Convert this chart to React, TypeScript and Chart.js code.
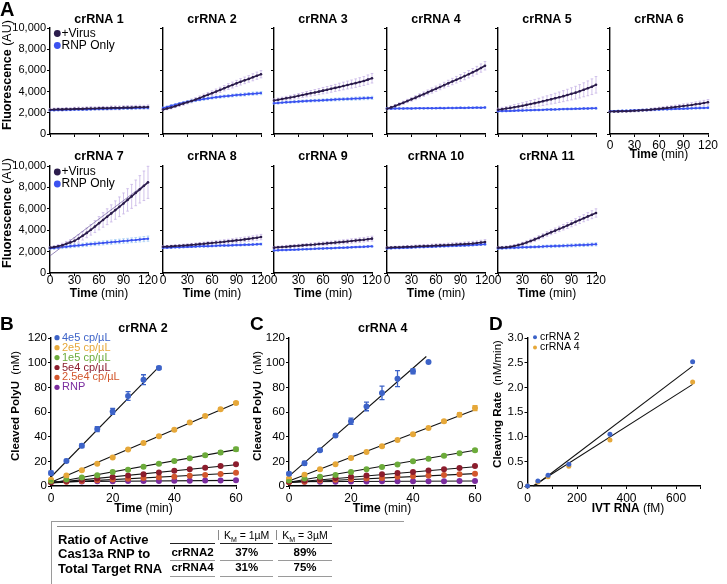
import React, { useEffect, useRef } from 'react';
import { Chart, registerables } from 'chart.js';
Chart.register(...registerables);

const FONT = '"Liberation Sans", Arial, Helvetica, sans-serif';

// ---------------- Panel A data ----------------
const timeA = [0, 5, 10, 15, 20, 25, 30, 35, 40, 45, 50, 55, 60, 65, 70, 75, 80, 85, 90, 95, 100, 105, 110, 115, 120];
const titlesA = ['crRNA 1', 'crRNA 2', 'crRNA 3', 'crRNA 4', 'crRNA 5', 'crRNA 6', 'crRNA 7', 'crRNA 8', 'crRNA 9', 'crRNA 10', 'crRNA 11'];
const yTicksA = [0, 2000, 4000, 6000, 8000, 10000];
const xTicksA = [0, 30, 60, 90, 120];

const a1Virus = [2290, 2310, 2330, 2320, 2350, 2340, 2370, 2380, 2370, 2400, 2410, 2400, 2430, 2440, 2430, 2460, 2470, 2460, 2490, 2500, 2490, 2520, 2530, 2520, 2550];
const a1VirusErr = [120, 130, 140, 130, 150, 140, 150, 160, 150, 160, 170, 160, 170, 160, 170, 180, 170, 180, 170, 180, 190, 180, 190, 180, 190];
const a1Rnp = [2230, 2250, 2260, 2270, 2280, 2290, 2300, 2310, 2320, 2320, 2340, 2350, 2360, 2360, 2380, 2390, 2400, 2400, 2420, 2430, 2440, 2450, 2460, 2470, 2480];
const a1RnpErr = [60, 70, 60, 70, 80, 70, 80, 70, 80, 90, 80, 90, 80, 90, 100, 90, 100, 90, 100, 110, 100, 110, 100, 110, 120];

const a2Virus = [2300, 2400, 2500, 2620, 2750, 2870, 3000, 3120, 3250, 3400, 3550, 3700, 3850, 4000, 4160, 4320, 4480, 4620, 4780, 4920, 5060, 5200, 5350, 5500, 5640];
const a2VirusErr = [100, 110, 130, 130, 150, 160, 160, 180, 190, 190, 210, 220, 220, 240, 250, 250, 270, 280, 280, 300, 310, 310, 330, 340, 340];
const a2Rnp = [2450, 2560, 2670, 2770, 2870, 2960, 3040, 3110, 3180, 3240, 3300, 3360, 3410, 3460, 3510, 3550, 3590, 3630, 3670, 3700, 3730, 3770, 3800, 3830, 3860];
const a2RnpErr = [80, 80, 90, 90, 100, 100, 100, 110, 110, 110, 120, 120, 120, 120, 130, 130, 130, 130, 140, 140, 140, 140, 150, 150, 150];

const a3Virus = [3160, 3230, 3300, 3370, 3440, 3520, 3600, 3680, 3760, 3840, 3920, 4000, 4090, 4170, 4260, 4350, 4440, 4530, 4620, 4710, 4800, 4900, 5000, 5130, 5260];
const a3VirusErr = [150, 160, 170, 180, 200, 210, 220, 230, 250, 260, 270, 280, 300, 310, 320, 330, 350, 360, 370, 380, 400, 410, 420, 440, 450];
const a3Rnp = [2900, 2930, 2960, 2990, 3010, 3040, 3060, 3090, 3110, 3130, 3150, 3170, 3190, 3210, 3230, 3250, 3270, 3290, 3310, 3320, 3340, 3360, 3380, 3390, 3410];
const a3RnpErr = [80, 90, 90, 100, 100, 100, 110, 110, 110, 120, 120, 120, 120, 130, 130, 130, 130, 140, 140, 140, 140, 150, 150, 150, 150];

const a4Virus = [2380, 2510, 2650, 2800, 2950, 3110, 3270, 3430, 3600, 3760, 3930, 4100, 4270, 4440, 4610, 4780, 4950, 5120, 5290, 5460, 5640, 5820, 6010, 6220, 6440];
const a4VirusErr = [100, 110, 120, 140, 150, 160, 170, 190, 200, 210, 220, 240, 250, 260, 270, 290, 300, 310, 320, 340, 350, 360, 370, 390, 400];
const a4Rnp = [2400, 2390, 2400, 2410, 2400, 2420, 2410, 2420, 2430, 2420, 2440, 2430, 2440, 2450, 2440, 2460, 2450, 2460, 2470, 2460, 2480, 2470, 2490, 2480, 2500];
const a4RnpErr = [60, 60, 70, 60, 70, 60, 70, 70, 60, 70, 70, 60, 70, 70, 80, 70, 70, 80, 70, 80, 80, 70, 80, 80, 80];

const a5Virus = [2280, 2340, 2400, 2460, 2530, 2600, 2670, 2750, 2830, 2910, 3000, 3090, 3180, 3270, 3370, 3470, 3570, 3680, 3790, 3900, 4030, 4170, 4310, 4460, 4640];
const a5VirusErr = [150, 170, 190, 210, 240, 260, 280, 300, 330, 350, 370, 400, 420, 440, 470, 490, 520, 540, 570, 600, 630, 660, 700, 740, 780];
const a5Rnp = [2150, 2160, 2170, 2180, 2200, 2210, 2220, 2230, 2250, 2260, 2270, 2280, 2300, 2310, 2320, 2330, 2350, 2360, 2370, 2380, 2390, 2400, 2410, 2420, 2430];
const a5RnpErr = [60, 70, 60, 70, 70, 60, 70, 70, 80, 70, 70, 80, 70, 80, 80, 70, 80, 80, 90, 80, 80, 90, 80, 90, 90];

const a6Virus = [2120, 2120, 2130, 2140, 2150, 2170, 2190, 2210, 2240, 2270, 2300, 2340, 2380, 2420, 2460, 2500, 2540, 2590, 2640, 2690, 2740, 2800, 2860, 2920, 2990];
const a6VirusErr = [80, 80, 90, 90, 100, 100, 110, 110, 120, 130, 130, 140, 150, 150, 160, 170, 180, 190, 200, 210, 220, 230, 240, 250, 260];
const a6Rnp = [2150, 2160, 2170, 2190, 2200, 2210, 2230, 2240, 2260, 2270, 2280, 2300, 2310, 2330, 2340, 2350, 2370, 2380, 2390, 2410, 2420, 2440, 2450, 2460, 2480];
const a6RnpErr = [60, 60, 70, 60, 70, 70, 60, 70, 70, 80, 70, 70, 80, 70, 80, 80, 70, 80, 80, 90, 80, 80, 90, 90, 90];

const a7Virus = [2370, 2420, 2500, 2600, 2730, 2860, 3000, 3230, 3480, 3750, 4040, 4340, 4650, 4960, 5260, 5570, 5880, 6190, 6500, 6830, 7160, 7490, 7820, 8150, 8470];
const a7VirusErr = [100, 120, 150, 180, 220, 260, 300, 350, 400, 450, 500, 560, 620, 680, 740, 800, 860, 920, 980, 1050, 1120, 1200, 1280, 1380, 1500];
const a7Rnp = [2300, 2340, 2380, 2420, 2460, 2500, 2540, 2580, 2620, 2660, 2700, 2740, 2770, 2810, 2850, 2880, 2920, 2950, 2990, 3020, 3060, 3090, 3130, 3170, 3210];
const a7RnpErr = [120, 130, 130, 140, 140, 150, 150, 160, 160, 170, 170, 180, 180, 190, 190, 200, 200, 210, 210, 220, 220, 230, 230, 240, 240];
const a7FitTime = [0, 120];
const a7Fit = [1600, 8500];

const a8Virus = [2450, 2470, 2490, 2520, 2540, 2570, 2600, 2630, 2660, 2700, 2730, 2770, 2810, 2850, 2880, 2920, 2960, 3000, 3050, 3090, 3140, 3190, 3240, 3300, 3360];
const a8VirusErr = [100, 100, 110, 110, 120, 120, 130, 140, 140, 150, 150, 160, 170, 170, 180, 190, 190, 200, 210, 210, 220, 230, 230, 240, 250];
const a8Rnp = [2350, 2370, 2380, 2400, 2410, 2430, 2440, 2460, 2470, 2490, 2500, 2510, 2530, 2540, 2560, 2570, 2580, 2600, 2610, 2620, 2640, 2650, 2670, 2680, 2700];
const a8RnpErr = [70, 70, 80, 70, 80, 80, 70, 80, 90, 80, 80, 90, 80, 90, 90, 80, 90, 100, 90, 90, 100, 90, 100, 100, 100];

const a9Virus = [2370, 2400, 2430, 2460, 2490, 2520, 2550, 2580, 2610, 2640, 2670, 2710, 2740, 2770, 2810, 2840, 2880, 2910, 2950, 2990, 3030, 3070, 3110, 3160, 3210];
const a9VirusErr = [100, 110, 110, 120, 120, 130, 130, 140, 140, 150, 150, 160, 160, 170, 170, 180, 180, 190, 190, 200, 200, 210, 210, 220, 230];
const a9Rnp = [2110, 2120, 2140, 2150, 2170, 2180, 2200, 2210, 2230, 2250, 2260, 2280, 2290, 2310, 2320, 2340, 2360, 2370, 2390, 2400, 2420, 2440, 2450, 2470, 2490];
const a9RnpErr = [60, 70, 60, 70, 70, 60, 70, 70, 80, 70, 70, 80, 70, 80, 80, 70, 80, 80, 90, 80, 80, 90, 80, 90, 90];

const a10Virus = [2370, 2380, 2400, 2410, 2430, 2450, 2460, 2480, 2500, 2510, 2530, 2550, 2570, 2580, 2600, 2620, 2640, 2660, 2680, 2700, 2730, 2760, 2800, 2850, 2900];
const a10VirusErr = [90, 100, 100, 110, 110, 120, 120, 130, 130, 140, 140, 150, 150, 160, 160, 170, 170, 180, 180, 190, 190, 200, 200, 210, 220];
const a10Rnp = [2300, 2310, 2330, 2340, 2360, 2370, 2390, 2400, 2420, 2430, 2450, 2460, 2480, 2490, 2510, 2520, 2540, 2550, 2570, 2580, 2600, 2620, 2640, 2660, 2680];
const a10RnpErr = [60, 70, 60, 70, 70, 60, 70, 70, 80, 70, 70, 80, 70, 80, 80, 70, 80, 80, 90, 80, 80, 90, 80, 90, 90];

const a11Virus = [2370, 2380, 2410, 2460, 2530, 2610, 2720, 2850, 2990, 3140, 3300, 3470, 3650, 3800, 3960, 4120, 4280, 4440, 4610, 4780, 4950, 5120, 5290, 5450, 5610];
const a11VirusErr = [100, 100, 110, 120, 130, 140, 150, 160, 170, 180, 190, 200, 210, 220, 240, 250, 260, 270, 290, 300, 320, 330, 350, 370, 390];
const a11Rnp = [2300, 2320, 2330, 2350, 2360, 2380, 2400, 2410, 2430, 2440, 2460, 2470, 2490, 2500, 2520, 2530, 2550, 2560, 2580, 2590, 2610, 2620, 2640, 2660, 2680];
const a11RnpErr = [80, 90, 90, 100, 100, 100, 110, 110, 110, 120, 120, 120, 120, 130, 130, 130, 130, 140, 140, 140, 140, 150, 150, 150, 150];

const virusSeriesA = [a1Virus, a2Virus, a3Virus, a4Virus, a5Virus, a6Virus, a7Virus, a8Virus, a9Virus, a10Virus, a11Virus];
const virusErrA = [a1VirusErr, a2VirusErr, a3VirusErr, a4VirusErr, a5VirusErr, a6VirusErr, a7VirusErr, a8VirusErr, a9VirusErr, a10VirusErr, a11VirusErr];
const rnpSeriesA = [a1Rnp, a2Rnp, a3Rnp, a4Rnp, a5Rnp, a6Rnp, a7Rnp, a8Rnp, a9Rnp, a10Rnp, a11Rnp];
const rnpErrA = [a1RnpErr, a2RnpErr, a3RnpErr, a4RnpErr, a5RnpErr, a6RnpErr, a7RnpErr, a8RnpErr, a9RnpErr, a10RnpErr, a11RnpErr];

// ---------------- Panels B / C data ----------------
const timeBC = [0, 5, 10, 15, 20, 25, 30, 35, 40, 45, 50, 55, 60];
const seriesLabelsBC = ['4e5 cp/µL', '2e5 cp/µL', '1e5 cp/µL', '5e4 cp/µL', '2.5e4 cp/µL', 'RNP'];
const yTicksBC = [0, 20, 40, 60, 80, 100, 120];
const xTicksBC = [0, 20, 40, 60];

const b4e5 = [10.5, 20.3, 32.7, 46.2, 60.5, 73, 86.2, 95.7];
const b4e5Err = [1.5, 1.2, 1.5, 2, 2.5, 3.5, 4, 1.2];
const b2e5 = [5, 8.6, 12.7, 18.1, 23.2, 29.5, 34.9, 40.3, 45.7, 51.4, 56.8, 62.2, 67.3];
const b2e5Err = [0.5, 0.5, 0.5, 0.6, 0.6, 0.6, 0.7, 0.7, 0.7, 0.8, 0.8, 0.9, 1];
const b1e5 = [4, 5.2, 6.8, 8.7, 11.4, 13.2, 15.6, 18, 20.3, 22.6, 25, 27.2, 29.7];
const b1e5Err = [0.5, 0.5, 0.5, 0.5, 0.6, 0.7, 0.8, 0.8, 0.9, 1, 1.1, 1.3, 1.5];
const b5e4 = [3, 4, 5, 6, 7.2, 8.5, 9.6, 11, 12.4, 13.6, 14.7, 16.2, 17.6];
const b25e4 = [3, 3.5, 4, 4.6, 5.2, 5.9, 6.5, 7.1, 7.6, 8.3, 9, 9.7, 10.8];
const bRnp = [3.5, 3.6, 3.7, 3.8, 3.9, 4, 4, 4.1, 4.2, 4.3, 4.4, 4.5, 4.6];
const bFitStart = [7.3, 3, 2.5, 2.5, 2.5, 3.5];
const bFitEnd = [96.5, 67, 29.5, 17.2, 10.6, 4.6];
const bFitEndTime = [35, 60, 60, 60, 60, 60];

const c4e5 = [10, 18.5, 29, 41, 52.5, 64.5, 75.5, 87, 93, 100.5];
const c4e5Err = [1, 1.5, 1, 1, 2.5, 3.5, 5.5, 6.5, 2, 0];
const c2e5 = [6, 9.2, 13.5, 17.6, 22.7, 27.6, 32.2, 37.3, 41.9, 47, 52.4, 57.8, 63.2];
const c2e5Err = [0.5, 0.5, 0.5, 0.5, 0.8, 0.8, 0.8, 0.8, 0.8, 1, 1, 1.5, 2];
const c1e5 = [4.5, 6, 7.5, 9, 11.4, 13.5, 15.5, 17.5, 20, 22, 24.5, 26.5, 28.9];
const c1e5Err = [0.4, 0.4, 0.5, 0.5, 0.5, 0.6, 0.6, 0.7, 0.7, 0.8, 0.8, 0.9, 1];
const c5e4 = [3.5, 4.5, 5.5, 6.5, 7.5, 8.5, 9.5, 10.5, 11.4, 12.5, 13.5, 14.5, 16.2];
const c25e4 = [3, 3.5, 4.5, 5, 5.5, 6, 6.5, 7.5, 8, 8.5, 9, 9.5, 10];
const cRnp = [3.5, 3.5, 3.5, 3.5, 3.7, 3.7, 3.8, 3.8, 3.8, 3.9, 3.9, 4, 4];
const cFitStart = [8, 4, 3, 2.8, 2.8, 3.5];
const cFitEnd = [105, 61.8, 29, 15.6, 10, 4];
const cFitEndTime = [44.3, 60, 60, 60, 60, 60];

// ---------------- Panel D data ----------------
const ivtRna = [0, 42, 83, 167, 333, 667];
const dCr2 = [0, 0.1, 0.22, 0.44, 1.05, 2.52];
const dCr4 = [0, 0.08, 0.19, 0.4, 0.93, 2.11];
const dFitX2 = [28, 667];
const dFitY2 = [0, 2.43];
const dFitX4 = [22, 667];
const dFitY4 = [0, 2.06];
const dLabels = ['crRNA 2', 'crRNA 4'];
const xTicksD = [0, 100, 200, 300, 400, 500, 600, 700];
const yTicksD = [0, 0.5, 1, 1.5, 2, 2.5, 3];

// ---------------- Table ----------------
const tableLabel = ['Ratio of Active', 'Cas13a RNP to', 'Total Target RNA'];
const tableRows = ['crRNA2', 'crRNA4'];
const tableKm1 = ['37%', '31%'];
const tableKm3 = ['89%', '75%'];

// ---------------- Styles ----------------
const VIRUS = '#2b1c4c';
const VIRUS_ERR = '#c6b4e6';
const RNP = '#3b52f0';
const RNP_ERR = '#a3cdf5';
const BC_COLORS = ['#3d63c8', '#e6a83a', '#6cab3b', '#8c1d2d', '#d3572d', '#7a2c9e'];

type Seg = { t: string; b?: boolean; s: number; c?: string };
type Item = { x: number; y: number; rot?: boolean; align?: string; segs?: Seg[]; dot?: string; r?: number };

const fontStr = (s: Seg) => `${s.b ? 'bold ' : ''}${s.s}px ${FONT}`;

function richText(items: Item[], ox: number, oy: number) {
  return {
    id: 'richText',
    afterDraw(chart: any) {
      const ctx = chart.ctx as CanvasRenderingContext2D;
      for (const it of items) {
        ctx.save();
        ctx.translate(it.x - ox, it.y - oy);
        if (it.dot) {
          ctx.fillStyle = it.dot;
          ctx.beginPath();
          ctx.arc(0, 0, it.r || 3, 0, Math.PI * 2);
          ctx.fill();
          ctx.restore();
          continue;
        }
        if (it.rot) ctx.rotate(-Math.PI / 2);
        ctx.textBaseline = 'middle';
        ctx.textAlign = 'left';
        const segs = it.segs || [];
        const widths = segs.map((s) => { ctx.font = fontStr(s); return ctx.measureText(s.t).width; });
        const total = widths.reduce((a, b) => a + b, 0);
        let x = it.align === 'center' ? -total / 2 : it.align === 'right' ? -total : 0;
        segs.forEach((s, i) => {
          ctx.font = fontStr(s);
          ctx.fillStyle = s.c || '#000';
          ctx.fillText(s.t, x, 0);
          x += widths[i];
        });
        ctx.restore();
      }
    },
  };
}

function drawErrors(chart: any, top: boolean) {
  const ctx = chart.ctx as CanvasRenderingContext2D;
  chart.data.datasets.forEach((ds: any, i: number) => {
    if (!ds.errors || !!ds.errorOnTop !== top) return;
    const meta = chart.getDatasetMeta(i);
    const ys = chart.scales[meta.yAxisID];
    ctx.save();
    ctx.strokeStyle = ds.errorColor;
    ctx.lineWidth = ds.errorWidth || 1;
    ctx.beginPath();
    meta.data.forEach((el: any, j: number) => {
      const e = ds.errors[j];
      if (!e) return;
      const v = ds.data[j].y;
      const y1 = ys.getPixelForValue(v - e);
      const y2 = ys.getPixelForValue(v + e);
      const cw = ds.capWidth || 0;
      ctx.moveTo(el.x, y1);
      ctx.lineTo(el.x, y2);
      if (cw) {
        ctx.moveTo(el.x - cw, y1); ctx.lineTo(el.x + cw, y1);
        ctx.moveTo(el.x - cw, y2); ctx.lineTo(el.x + cw, y2);
      }
    });
    ctx.stroke();
    ctx.restore();
  });
}

const errorBars = {
  id: 'errorBars',
  beforeDatasetsDraw(chart: any) { drawErrors(chart, false); },
  afterDatasetsDraw(chart: any) { drawErrors(chart, true); },
};

const fixSize = (size: number) => (scale: any) => {
  if (scale.isHorizontal()) scale.height = size; else scale.width = size;
  scale.paddingLeft = 0; scale.paddingRight = 0; scale.paddingTop = 0; scale.paddingBottom = 0;
};

const pts = (xs: number[], ys: number[]) => ys.map((y, i) => ({ x: xs[i], y }));

const X_AXIS_H = 24;

function axis(opts: any) {
  return {
    type: 'linear',
    min: opts.min,
    max: opts.max,
    afterFit: fixSize(opts.size),
    afterBuildTicks: (scale: any) => { scale.ticks = opts.ticks.map((v: number) => ({ value: v })); },
    ticks: {
      display: opts.labels,
      autoSkip: false,
      maxRotation: 0,
      color: '#000',
      padding: opts.pad ?? 2,
      font: { size: opts.font || 11, family: FONT },
      callback: opts.fmt || ((v: any) => String(v)),
    },
    grid: { display: true, drawOnChartArea: false, drawTicks: true, tickLength: 3, color: '#000', lineWidth: 1 },
    border: { display: true, color: '#000', width: 1.4 },
  };
}

type Spec = { x: number; y: number; w: number; h: number; make: () => any };

const baseOptions = (padding: any) => ({
  animation: false,
  responsive: false,
  events: [],
  layout: { padding, autoPadding: false },
  plugins: { legend: { display: false }, tooltip: { enabled: false } },
});

// Panel A geometry
const AL = [50, 163, 274, 387, 498, 610];
const AW = 98;
const ROW_TOP = [28, 166];
const ROW_BOT = [134, 273];
const TITLE_Y = [20, 157];

function specA(i: number): Spec {
  const row = i < 6 ? 0 : 1;
  const col = row === 0 ? i : i - 6;
  const left = AL[col];
  const top = ROW_TOP[row];
  const bottom = ROW_BOT[row];
  const cx = left - 50;
  const cy = top - 25;
  const w = 50 + AW + 12;
  const h = 25 + (bottom - top) + 36;
  const showX = row === 1 || i === 5;
  const items: Item[] = [{ x: left + AW / 2, y: TITLE_Y[row], align: 'center', segs: [{ t: titlesA[i], b: true, s: 12.5 }] }];
  if (col === 0) {
    items.push({ x: 8, y: row === 0 ? 75 : 213, rot: true, align: 'center', segs: [{ t: 'Fluorescence', b: true, s: 12.5 }, { t: ' (AU)', s: 12.5 }] });
    const ly = row === 0 ? [33.5, 45.5] : [172, 184];
    items.push({ x: 57.3, y: ly[0], dot: VIRUS, r: 3.4 });
    items.push({ x: 61.5, y: ly[0], segs: [{ t: '+Virus', s: 12 }] });
    items.push({ x: 57.3, y: ly[1], dot: RNP, r: 3.4 });
    items.push({ x: 61.5, y: ly[1], segs: [{ t: 'RNP Only', s: 12 }] });
  }
  if (showX) items.push({ x: left + AW / 2, y: row === 0 ? 155 : 294, align: 'center', segs: [{ t: 'Time', b: true, s: 12 }, { t: ' (min)', s: 12 }] });
  return {
    x: cx, y: cy, w, h,
    make: () => {
      const datasets: any[] = [
        { data: pts(timeA, virusSeriesA[i]), showLine: true, borderColor: VIRUS, backgroundColor: VIRUS, borderWidth: 1.6, pointRadius: 1.3, pointBorderWidth: 0, errors: virusErrA[i], errorColor: VIRUS_ERR, errorWidth: 0.8, capWidth: 1.3, clip: false },
      ];
      if (i === 6) datasets.push({ data: pts(a7FitTime, a7Fit), showLine: true, borderColor: '#7d6ca8', borderWidth: 0.8, pointRadius: 0, clip: false });
      datasets.push({ data: pts(timeA, rnpSeriesA[i]), showLine: true, borderColor: RNP, backgroundColor: RNP, borderWidth: 1.5, pointRadius: 1.2, pointBorderWidth: 0, errors: rnpErrA[i], errorColor: RNP_ERR, errorWidth: 0.8, capWidth: 1.3, clip: false });
      return {
        type: 'scatter',
        data: { datasets },
        options: {
          ...baseOptions({ left: 0, top: 25, right: 12, bottom: 36 - X_AXIS_H }),
          scales: {
            x: axis({ min: 0, max: 120, size: X_AXIS_H, ticks: xTicksA, labels: showX, font: 12, pad: row === 0 ? 1.5 : -2.5 }),
            y: axis({ min: 0, max: 10000, size: 50, ticks: yTicksA, labels: col === 0, font: 11, pad: 1, fmt: (v: any) => Number(v).toLocaleString('en-US') }),
          },
        },
        plugins: [errorBars, richText(items, cx, cy)],
      };
    },
  };
}

function specBC(which: string): Spec {
  const isB = which === 'B';
  const left = isB ? 51 : 289;
  const right = isB ? 236 : 475;
  const top = 338;
  const bottom = 486;
  const cx = left - 51;
  const cy = top - 30;
  const w = (right - cx) + 12;
  const h = 30 + (bottom - top) + 32;
  const series = isB ? [b4e5, b2e5, b1e5, b5e4, b25e4, bRnp] : [c4e5, c2e5, c1e5, c5e4, c25e4, cRnp];
  const errs: any[] = isB ? [b4e5Err, b2e5Err, b1e5Err, null, null, null] : [c4e5Err, c2e5Err, c1e5Err, null, null, null];
  const fitS = isB ? bFitStart : cFitStart;
  const fitE = isB ? bFitEnd : cFitEnd;
  const fitT = isB ? bFitEndTime : cFitEndTime;
  const midX = (left + right) / 2;
  const items: Item[] = [
    { x: isB ? 143 : 382.7, y: 329, align: 'center', segs: [{ t: isB ? 'crRNA 2' : 'crRNA 4', b: true, s: 12.5 }] },
    { x: isB ? 16 : 258, y: 406, rot: true, align: 'center', segs: [{ t: 'Cleaved PolyU', b: true, s: 11.5 }, { t: '  (nM)', s: 11.5 }] },
    { x: midX, y: 508.5, align: 'center', segs: [{ t: 'Time', b: true, s: 12 }, { t: ' (min)', s: 12 }] },
  ];
  if (isB) {
    seriesLabelsBC.forEach((lab, k) => {
      const y = 337.7 + 9.93 * k;
      items.push({ x: 57, y, dot: BC_COLORS[k], r: 2.6 });
      items.push({ x: 62, y, segs: [{ t: lab, s: 11, c: BC_COLORS[k] }] });
    });
  }
  return {
    x: cx, y: cy, w, h,
    make: () => {
      const datasets: any[] = [];
      series.forEach((vals, k) => {
        datasets.push({ data: pts(timeBC, vals), showLine: false, backgroundColor: BC_COLORS[k], borderColor: BC_COLORS[k], pointRadius: 3, pointBorderWidth: 0, errors: errs[k], errorColor: BC_COLORS[k], errorWidth: 1.3, capWidth: 2.5, errorOnTop: true, clip: false });
      });
      series.forEach((_, k) => {
        datasets.push({ data: [{ x: 0, y: fitS[k] }, { x: fitT[k], y: fitE[k] }], showLine: true, borderColor: '#111', borderWidth: 1.1, pointRadius: 0, clip: false });
      });
      return {
        type: 'scatter',
        data: { datasets },
        options: {
          ...baseOptions({ left: 0, top: 30, right: 12, bottom: 32 - X_AXIS_H }),
          scales: {
            x: axis({ min: 0, max: 60, size: X_AXIS_H, ticks: xTicksBC, labels: true, font: 12, pad: 2 }),
            y: axis({ min: 0, max: 120, size: 51, ticks: yTicksBC, labels: true, font: 11.5, pad: 1 }),
          },
        },
        plugins: [errorBars, richText(items, cx, cy)],
      };
    },
  };
}

function specD(): Spec {
  const cx = 478;
  const cy = 308;
  const w = 249;
  const h = 30 + 148 + 32;
  const left = 527.5;
  const right = 700.8;
  const items: Item[] = [
    { x: 498, y: 404, rot: true, align: 'center', segs: [{ t: 'Cleaving Rate', b: true, s: 11.5 }, { t: '  (nM/min)', s: 11.5 }] },
    { x: 628, y: 509, align: 'center', segs: [{ t: 'IVT RNA', b: true, s: 12 }, { t: ' (fM)', s: 12 }] },
    { x: 535, y: 337.3, dot: BC_COLORS[0], r: 2 },
    { x: 540, y: 337.3, segs: [{ t: dLabels[0], s: 10.5 }] },
    { x: 535, y: 347.6, dot: BC_COLORS[1], r: 2 },
    { x: 540, y: 347.6, segs: [{ t: dLabels[1], s: 10.5 }] },
  ];
  return {
    x: cx, y: cy, w, h,
    make: () => ({
      type: 'scatter',
      data: {
        datasets: [
          { data: pts(ivtRna, dCr2), backgroundColor: BC_COLORS[0], pointRadius: 2.5, pointBorderWidth: 0, clip: false },
          { data: pts(ivtRna, dCr4), backgroundColor: BC_COLORS[1], pointRadius: 2.5, pointBorderWidth: 0, clip: false },
          { data: pts(dFitX2, dFitY2), showLine: true, borderColor: '#111', borderWidth: 1.1, pointRadius: 0, clip: false },
          { data: pts(dFitX4, dFitY4), showLine: true, borderColor: '#111', borderWidth: 1.1, pointRadius: 0, clip: false },
        ],
      },
      options: {
        ...baseOptions({ left: 0, top: 30, right: (cx + w) - right, bottom: 32 - X_AXIS_H }),
        scales: {
          x: axis({ min: 0, max: 700, size: X_AXIS_H, ticks: xTicksD, labels: true, font: 12, pad: 2, fmt: (v: any) => (Number(v) % 200 === 0 ? String(v) : '') }),
          y: axis({ min: 0, max: 3, size: left - cx, ticks: yTicksD, labels: true, font: 11.5, pad: 1, fmt: (v: any) => (Number(v) === 0 ? '0' : Number(v).toFixed(1)) }),
        },
      },
      plugins: [errorBars, richText(items, cx, cy)],
    }),
  };
}

const SPECS: Spec[] = [
  ...titlesA.map((_, i) => specA(i)),
  specBC('B'),
  specBC('C'),
  specD(),
];

const Txt = (p: { x: number; y: number; size: number; bold?: boolean; align?: string; children: any }) => {
  const tx = p.align === 'center' ? '-50%' : p.align === 'right' ? '-100%' : '0';
  return (
    <div style={{ position: 'absolute', left: p.x, top: p.y, transform: `translate(${tx}, -50%)`, fontSize: p.size, fontWeight: p.bold ? 700 : 400, lineHeight: 1, whiteSpace: 'nowrap', color: '#000' }}>
      {p.children}
    </div>
  );
};

const HLine = (p: { x1: number; x2: number; y: number; w: number; c: string }) => (
  <div style={{ position: 'absolute', left: p.x1, top: p.y - p.w / 2, width: p.x2 - p.x1, height: p.w, background: p.c }} />
);

const COLS = [[170, 215], [220, 273.3], [278.3, 331.7]];

export default function App() {
  const refs = useRef<(HTMLCanvasElement | null)[]>([]);
  useEffect(() => {
    const charts: any[] = [];
    SPECS.forEach((s, i) => {
      const c = refs.current[i];
      if (c) charts.push(new Chart(c, s.make()));
    });
    return () => charts.forEach((c) => c.destroy());
  }, []);

  return (
    <div style={{ position: 'fixed', left: 0, top: 0, width: 727, height: 584, overflow: 'hidden', background: '#fff', fontFamily: FONT }}>
      {SPECS.map((s, i) => (
        <canvas
          key={i}
          ref={(el) => { refs.current[i] = el; }}
          width={s.w}
          height={s.h}
          style={{ position: 'absolute', left: s.x, top: s.y, width: s.w, height: s.h }}
        />
      ))}
      <Txt x={0} y={9} size={20} bold>A</Txt>
      <Txt x={0} y={323} size={19} bold>B</Txt>
      <Txt x={250} y={323} size={19} bold>C</Txt>
      <Txt x={489} y={323} size={19} bold>D</Txt>

      {/* table */}
      <div style={{ position: 'absolute', left: 51, top: 521, width: 352, height: 80, borderTop: '1px solid #9a9a9a', borderLeft: '1px solid #9a9a9a' }} />
      <HLine x1={57} x2={331.7} y={526.7} w={1} c="#8a8a8a" />
      {tableLabel.map((t, i) => (
        <Txt key={t} x={58} y={539 + i * 14.35} size={13} bold>{t}</Txt>
      ))}
      <Txt x={(COLS[1][0] + COLS[1][1]) / 2} y={535} size={10.5} align="center">K<sub style={{ fontSize: 7, verticalAlign: 'sub', lineHeight: 0 }}>M</sub> = 1µM</Txt>
      <Txt x={(COLS[2][0] + COLS[2][1]) / 2} y={535} size={10.5} align="center">K<sub style={{ fontSize: 7, verticalAlign: 'sub', lineHeight: 0 }}>M</sub> = 3µM</Txt>
      <div style={{ position: 'absolute', left: 275.8, top: 530, width: 0.8, height: 10, background: '#8a8a8a' }} />
      <div style={{ position: 'absolute', left: 217.5, top: 530, width: 0.8, height: 10, background: '#8a8a8a' }} />
      {COLS.map((c, k) => (
        <React.Fragment key={k}>
          <HLine x1={c[0]} x2={c[1]} y={543.3} w={1.6} c="#222" />
          <HLine x1={c[0]} x2={c[1]} y={560.3} w={1} c="#9a9a9a" />
          <HLine x1={c[0]} x2={c[1]} y={576.7} w={1} c="#9a9a9a" />
        </React.Fragment>
      ))}
      {tableRows.map((r, i) => (
        <React.Fragment key={r}>
          <Txt x={(COLS[0][0] + COLS[0][1]) / 2} y={553.3 + i * 14.4} size={11.5} bold align="center">{r}</Txt>
          <Txt x={(COLS[1][0] + COLS[1][1]) / 2} y={553.3 + i * 14.4} size={11.5} bold align="center">{tableKm1[i]}</Txt>
          <Txt x={(COLS[2][0] + COLS[2][1]) / 2} y={553.3 + i * 14.4} size={11.5} bold align="center">{tableKm3[i]}</Txt>
        </React.Fragment>
      ))}
    </div>
  );
}
